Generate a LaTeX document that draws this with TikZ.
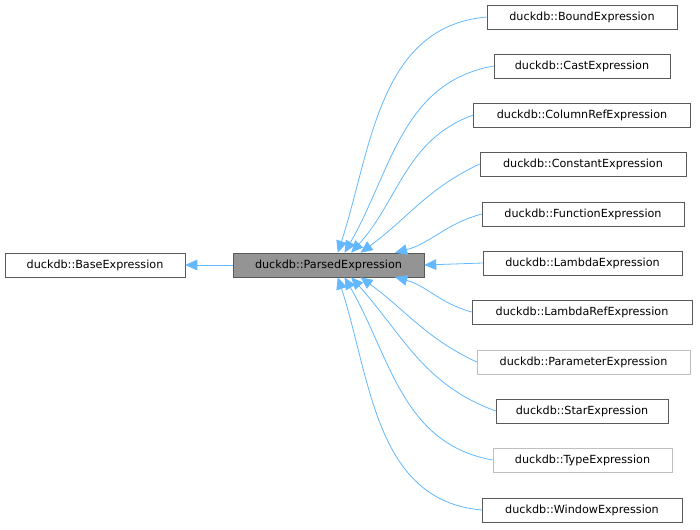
\documentclass[tikz,border=0pt]{standalone}
\usepackage{fontspec}
\setmainfont{DejaVu Sans}
\usetikzlibrary{arrows.meta, positioning}
\definecolor{edgeblue}{HTML}{63B8FF}

\begin{document}
\begin{tikzpicture}[x=0.75pt, y=0.75pt,
                    every node/.style={rectangle, draw=black!65, fill=white, inner sep=0pt,
                      minimum height=18pt, font=\fontsize{8.4}{10}\selectfont},
                    light/.style={draw=black!25},
                    inh/.style={draw=edgeblue, line width=0.6pt,
                      {Triangle[length=9pt,width=8pt]}-}
                    ]
  \useasboundingbox (0,0) rectangle (700,-529);

  \node[minimum width=180*0.75pt] (base) at (95,-265) {duckdb::BaseExpression};
  \node[minimum width=191*0.75pt, fill=black!42] (parsed) at (328.5,-265) {duckdb::ParsedExpression};

  \node[minimum width=190*0.75pt] (bound) at (582,-17) {duckdb::BoundExpression};
  \node[minimum width=176*0.75pt] (cast) at (582,-66) {duckdb::CastExpression};
  \node[minimum width=217*0.75pt] (colref) at (582,-115) {duckdb::ColumnRefExpression};
  \node[minimum width=206*0.75pt] (const) at (583,-164) {duckdb::ConstantExpression};
  \node[minimum width=202*0.75pt] (func) at (583,-214) {duckdb::FunctionExpression};
  \node[minimum width=199*0.75pt] (lambda) at (582.5,-263) {duckdb::LambdaExpression};
  \node[minimum width=220*0.75pt] (lambdaref) at (582,-312) {duckdb::LambdaRefExpression};
  \node[minimum width=213*0.75pt, light] (param) at (583.5,-362) {duckdb::ParameterExpression};
  \node[minimum width=172*0.75pt] (star) at (582,-411) {duckdb::StarExpression};
  \node[minimum width=179*0.75pt, light] (type) at (582.5,-460) {duckdb::TypeExpression};
  \node[minimum width=200*0.75pt] (window) at (582,-510) {duckdb::WindowExpression};

  % inheritance edges
  \draw[inh] (base.east) -- (parsed.west);
  \draw[inh] ([xshift=7pt]parsed.north) to[out=72, in=185] (bound.west);
  \draw[inh] ([xshift=12pt]parsed.north) to[out=60, in=190] (cast.west);
  \draw[inh] ([xshift=17pt]parsed.north) to[out=48, in=200] (colref.west);
  \draw[inh] ([xshift=24pt]parsed.north) to[out=36, in=205] (const.west);
  \draw[inh] ([xshift=50pt]parsed.north) to[out=15, in=195] (func.west);
  \draw[inh] (parsed.east) -- (lambda.west);
  \draw[inh] ([xshift=50pt]parsed.south) to[out=-15, in=165] (lambdaref.west);
  \draw[inh] ([xshift=24pt]parsed.south) to[out=-36, in=155] (param.west);
  \draw[inh] ([xshift=17pt]parsed.south) to[out=-48, in=160] (star.west);
  \draw[inh] ([xshift=12pt]parsed.south) to[out=-60, in=170] (type.west);
  \draw[inh] ([xshift=7pt]parsed.south) to[out=-72, in=175] (window.west);
\end{tikzpicture}
\end{document}
